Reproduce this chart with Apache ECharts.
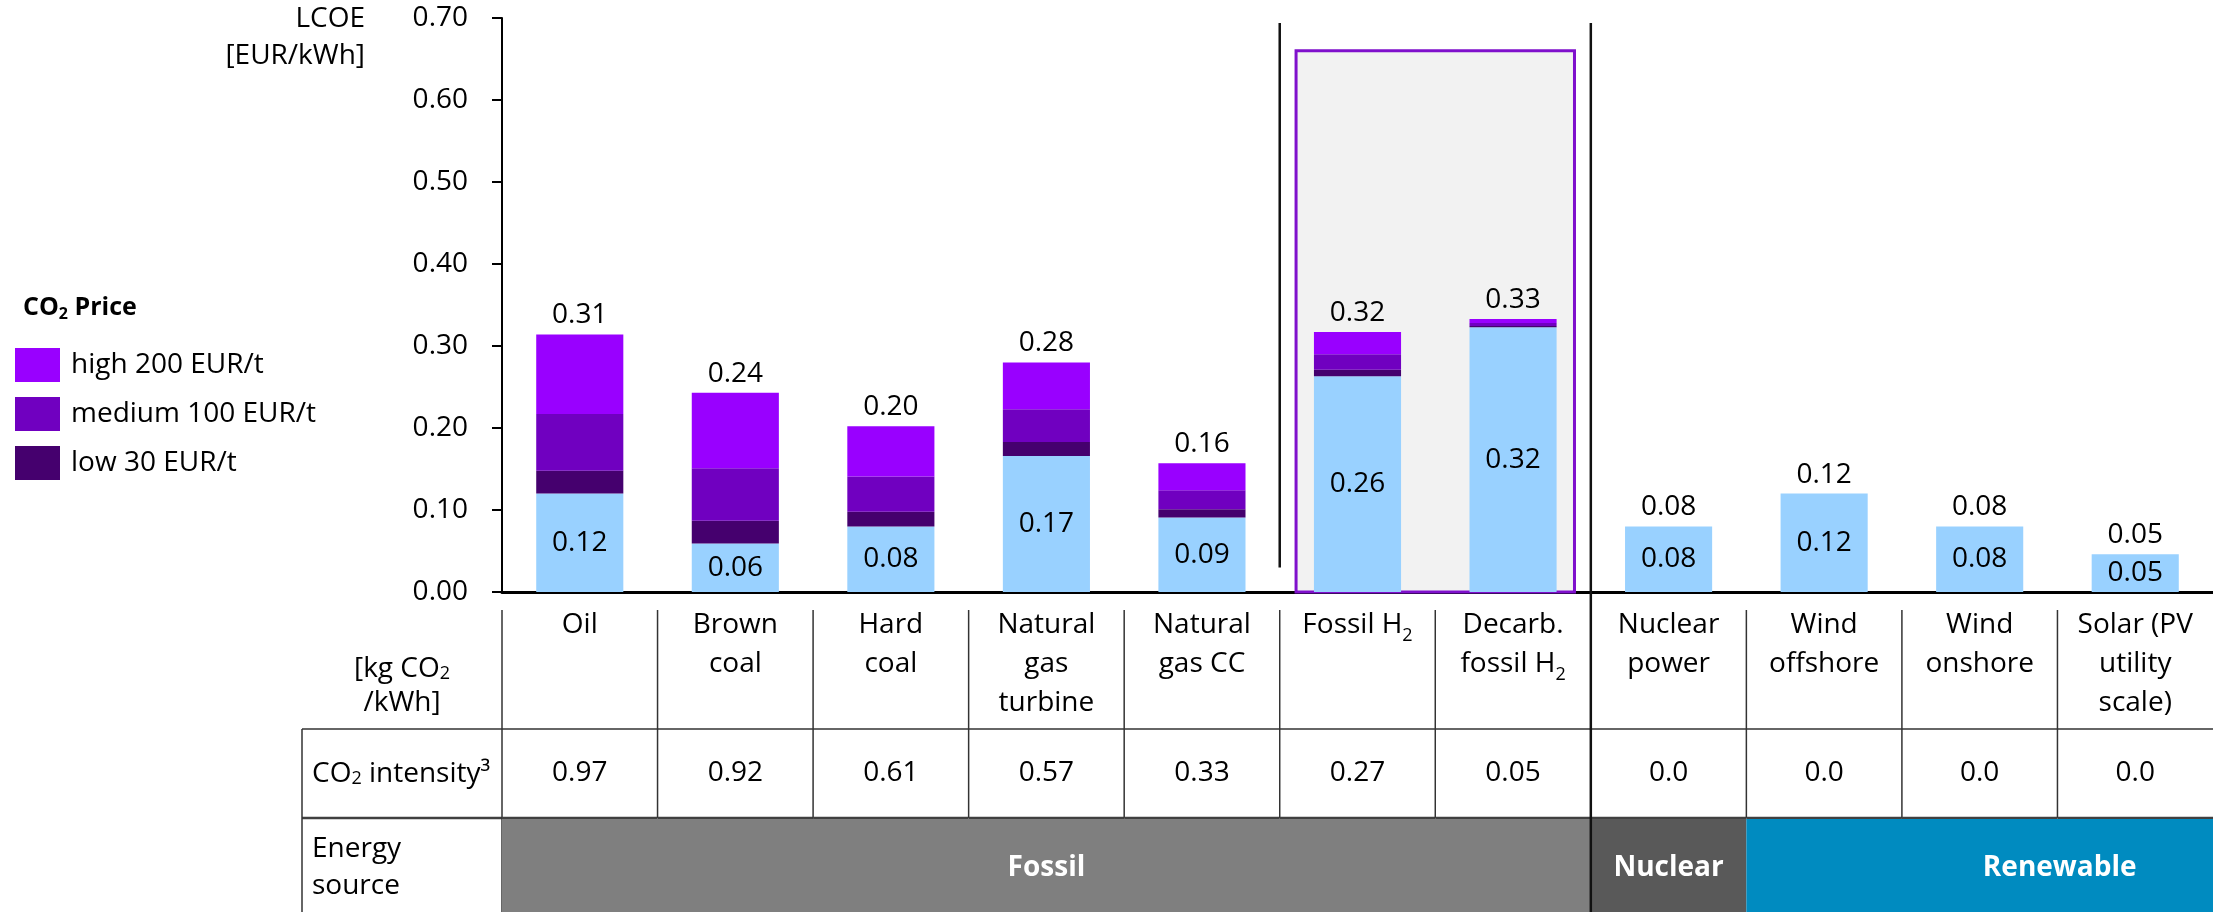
<!DOCTYPE html>
<html>
<head>
    <meta charset="utf-8" />
    <title>LCOE by technology</title>
    <script src="https://cdn.jsdelivr.net/npm/echarts@6/dist/echarts.min.js"></script>
    <style>
        html, body { margin: 0; padding: 0; background: #fff; }
        #chart { width: 2213px; height: 912px; }
    </style>
</head>
<body>
<div id="chart"></div>
<script>
    // {s|2} marks a subscript 2
    var categories = ['Oil', 'Brown\ncoal', 'Hard\ncoal', 'Natural\ngas\nturbine', 'Natural\ngas CC',
        'Fossil H{s|2}', 'Decarb.\nfossil H{s|2}', 'Nuclear\npower', 'Wind\noffshore', 'Wind\nonshore',
        'Solar (PV\nutility\nscale)'];

    // LCOE without CO2 price, then the extra cost of each CO2 price step (EUR/kWh)
    var baseCost  = [0.120, 0.059, 0.080, 0.166, 0.091, 0.263, 0.323, 0.080, 0.120, 0.080, 0.046];
    var lowAdd    = [0.028, 0.028, 0.018, 0.017, 0.010, 0.008, 0.0015, 0, 0, 0, 0];
    var mediumAdd = [0.069, 0.064, 0.043, 0.040, 0.023, 0.019, 0.0035, 0, 0, 0, 0];
    var highAdd   = [0.097, 0.092, 0.061, 0.057, 0.033, 0.027, 0.005, 0, 0, 0, 0];
    var totals    = [0.31, 0.24, 0.20, 0.28, 0.16, 0.32, 0.33, 0.08, 0.12, 0.08, 0.05];

    var co2Intensity = [0.97, 0.92, 0.61, 0.57, 0.33, 0.27, 0.05, 0.0, 0.0, 0.0, 0.0];

    var sourceNames = ['Fossil', 'Nuclear', 'Renewable'];
    var sourceFirst = [0, 7, 8];
    var sourceLast  = [6, 7, 10];

    var priceNames = ['low 30 EUR/t', 'medium 100 EUR/t', 'high 200 EUR/t'];

    // hydrogen highlight box: first / last category and top value
    var h2Box = [5, 6, 0.66];
    // vertical separators after these categories
    var separatorsAfter = [4, 6];

    // ---- layout and style ----
    var FONT = 'Open Sans';
    var FS = 28;
    var PLOT_LEFT = 502;
    var AXIS_Y = 592;
    var ROW_EDGES = [18, 137, 226, 320];     // table rows, px below the x axis
    var SOURCE_COLORS = ['#7F7F7F', '#595959', '#008BC0'];
    var SOURCE_SHIFT = [0, 0, 80];
    var PRICE_COLORS = ['#45006E', '#7000C0', '#9900FF'];
    var BASE_COLOR = '#99D1FF';
    var SUB = { s: { fontSize: 18, fontFamily: FONT, lineHeight: 20, verticalAlign: 'bottom', fill: '#000' } };

    var plainNames = categories.map(function (c) {
        return c.replace(/\{s\|2\}/g, '2').replace(/\n/g, ' ');
    });

    function renderBox(params, api) {
        var bw = api.size([1, 0])[0];
        var a = api.coord([api.value(0), 0]);
        var b = api.coord([api.value(1), api.value(2)]);
        var inset = bw * 0.105;
        var x0 = a[0] - bw / 2 + inset;
        var x1 = b[0] + bw / 2 - inset;
        return {
            type: 'rect',
            shape: { x: x0, y: b[1], width: x1 - x0, height: a[1] - b[1] },
            style: { fill: '#F2F2F2', stroke: '#7F10CC', lineWidth: 3 }
        };
    }

    function renderSeparator(params, api) {
        var i = api.value(0);
        var bw = api.size([1, 0])[0];
        var x = api.coord([i, 0])[0] + bw / 2;
        var yTop = api.coord([i, 0.694])[1];
        var yBot = params.dataIndex === 0 ? api.coord([i, 0.03])[1] : api.getHeight();
        return {
            type: 'line',
            shape: { x1: x, y1: yTop, x2: x, y2: yBot },
            style: { stroke: '#111', lineWidth: 2.5 }
        };
    }

    function renderTable(params, api) {
        var i = api.value(0);
        var bw = api.size([1, 0])[0];
        var cx = api.coord([i, 0])[0];
        var x0 = cx - bw / 2, x1 = cx + bw / 2;
        var y = ROW_EDGES.map(function (r) { return api.coord([i, r])[1]; });
        var v = co2Intensity[i];
        return {
            type: 'group',
            children: [
                { type: 'line', shape: { x1: x0, y1: y[0], x2: x0, y2: i === 0 ? y[3] : y[2] },
                  style: { stroke: '#333', lineWidth: 1.5 } },
                { type: 'line', shape: { x1: x0, y1: y[1], x2: x1, y2: y[1] },
                  style: { stroke: '#333', lineWidth: 1.5 } },
                { type: 'line', shape: { x1: x0, y1: y[2], x2: x1, y2: y[2] },
                  style: { stroke: '#404040', lineWidth: 2.5 } },
                { type: 'text', style: {
                    text: categories[i], x: cx, y: y[0] - 4, align: 'center', verticalAlign: 'top',
                    fontSize: FS, fontFamily: FONT, lineHeight: 39, fill: '#000', rich: SUB } },
                { type: 'text', style: {
                    text: v === 0 ? '0.0' : v.toFixed(2), x: cx, y: (y[1] + y[2]) / 2,
                    align: 'center', verticalAlign: 'middle',
                    fontSize: FS, fontFamily: FONT, fill: '#000' } }
            ]
        };
    }

    function renderSource(params, api) {
        var k = api.value(2);
        var bw = api.size([1, 0])[0];
        var xa = api.coord([api.value(0), 0])[0] - bw / 2;
        var xb = api.coord([api.value(1), 0])[0] + bw / 2;
        var y0 = api.coord([0, ROW_EDGES[2]])[1];
        var y1 = api.coord([0, ROW_EDGES[3]])[1];
        return {
            type: 'group',
            children: [
                { type: 'rect', shape: { x: xa, y: y0 + 1, width: xb - xa, height: y1 - y0 },
                  style: { fill: SOURCE_COLORS[k] } },
                { type: 'text', style: {
                    text: sourceNames[k], x: (xa + xb) / 2 + SOURCE_SHIFT[k], y: (y0 + y1) / 2 + 3,
                    align: 'center', verticalAlign: 'middle',
                    fontSize: FS, fontWeight: 'bold', fontFamily: FONT, fill: '#fff' } }
            ]
        };
    }

    var priceData = [lowAdd, mediumAdd, highAdd];
    var priceSeries = priceNames.map(function (name, k) {
        var s = {
            name: name,
            type: 'bar',
            stack: 'lcoe',
            barWidth: '56%',
            z: 3,
            itemStyle: { color: PRICE_COLORS[k] },
            data: priceData[k]
        };
        if (k === 2) {
            s.label = {
                show: true, position: 'top', distance: 5,
                fontSize: FS, fontFamily: FONT, color: '#000',
                formatter: function (p) { return totals[p.dataIndex].toFixed(2); }
            };
        }
        return s;
    });

    var chart = echarts.init(document.getElementById('chart'));
    chart.setOption({
        animation: false,
        textStyle: { fontFamily: FONT },
        title: {
            text: 'CO{s|2} Price',
            left: 23,
            top: 294,
            padding: 0,
            textStyle: {
                fontSize: 25, fontWeight: 'bold', color: '#000', fontFamily: FONT,
                rich: { s: { fontSize: 16, fontWeight: 'bold', fontFamily: FONT, padding: [12, 0, 0, 0] } }
            }
        },
        legend: {
            data: priceNames.slice().reverse(),
            orient: 'vertical',
            left: 15,
            top: 348,
            padding: 0,
            icon: 'rect',
            itemWidth: 45,
            itemHeight: 34,
            itemGap: 15,
            selectedMode: false,
            textStyle: { fontSize: FS, fontFamily: FONT, color: '#000', padding: [0, 0, 0, 6] }
        },
        graphic: [
            { type: 'text', x: 365, y: 1, style: {
                text: 'LCOE\n[EUR/kWh]', align: 'right', verticalAlign: 'top',
                fontSize: FS, fontFamily: FONT, lineHeight: 37, fill: '#000' } },
            { type: 'text', x: 402, y: 669, style: {
                text: '[kg CO{s|2}', align: 'center', verticalAlign: 'middle',
                fontSize: FS, fontFamily: FONT, fill: '#000', rich: SUB } },
            { type: 'text', x: 402, y: 703, style: {
                text: '/kWh]', align: 'center', verticalAlign: 'middle',
                fontSize: FS, fontFamily: FONT, fill: '#000' } },
            { type: 'text', x: 312, y: 774, style: {
                text: 'CO{s|2} intensity³', align: 'left', verticalAlign: 'middle',
                fontSize: FS, fontFamily: FONT, fill: '#000', rich: SUB } },
            { type: 'text', x: 312, y: 868, style: {
                text: 'Energy\nsource', align: 'left', verticalAlign: 'middle',
                fontSize: FS, fontFamily: FONT, lineHeight: 37, fill: '#000' } },
            { type: 'line', shape: { x1: 302, y1: 729, x2: PLOT_LEFT, y2: 729 },
              style: { stroke: '#333', lineWidth: 1.5 } },
            { type: 'line', shape: { x1: 302, y1: 818, x2: PLOT_LEFT, y2: 818 },
              style: { stroke: '#404040', lineWidth: 2.5 } },
            { type: 'line', shape: { x1: 302, y1: 729, x2: 302, y2: 912 },
              style: { stroke: '#333', lineWidth: 1.5 } }
        ],
        grid: [
            { left: PLOT_LEFT, right: 0, top: 18, height: AXIS_Y - 18 },
            { left: PLOT_LEFT, right: 0, top: AXIS_Y, height: 912 - AXIS_Y }
        ],
        xAxis: [
            {
                type: 'category', gridIndex: 0, data: plainNames,
                axisLine: { lineStyle: { color: '#000', width: 3 } },
                axisTick: { show: false },
                axisLabel: { show: false }
            },
            { type: 'category', gridIndex: 1, data: plainNames, show: false }
        ],
        yAxis: [
            {
                type: 'value', gridIndex: 0, min: 0, max: 0.7, interval: 0.1,
                axisLine: { show: true, lineStyle: { color: '#000', width: 2 } },
                axisTick: { show: true, length: 10, lineStyle: { color: '#000', width: 2 } },
                axisLabel: {
                    margin: 34, fontSize: FS, fontFamily: FONT, color: '#000',
                    formatter: function (v) { return v.toFixed(2); }
                },
                splitLine: { show: false }
            },
            { type: 'value', gridIndex: 1, min: 0, max: 912 - AXIS_Y, inverse: true, show: false }
        ],
        series: [
            {
                type: 'custom', name: 'h2box', xAxisIndex: 0, yAxisIndex: 0, z: 1,
                renderItem: renderBox, encode: { x: [0, 1], y: 2 },
                data: [h2Box]
            },
            {
                name: 'LCOE',
                type: 'bar',
                stack: 'lcoe',
                barWidth: '56%',
                z: 3,
                itemStyle: { color: BASE_COLOR },
                label: {
                    show: true, position: 'inside',
                    fontSize: FS, fontFamily: FONT, color: '#000',
                    formatter: function (p) { return p.value.toFixed(2); }
                },
                data: baseCost
            }
        ].concat(priceSeries).concat([
            {
                type: 'custom', name: 'table', xAxisIndex: 1, yAxisIndex: 1, z: 2,
                renderItem: renderTable, encode: { x: 0, y: 1 },
                data: categories.map(function (c, i) { return [i, 0]; })
            },
            {
                type: 'custom', name: 'source', xAxisIndex: 1, yAxisIndex: 1, z: 3,
                renderItem: renderSource, encode: { x: [0, 1], y: 3 },
                data: sourceNames.map(function (n, k) { return [sourceFirst[k], sourceLast[k], k, 0]; })
            },
            {
                type: 'custom', name: 'separators', xAxisIndex: 0, yAxisIndex: 0, z: 10, clip: false,
                renderItem: renderSeparator, encode: { x: 0, y: 1 },
                data: separatorsAfter.map(function (a) { return [a, 0]; })
            }
        ])
    });
</script>
</body>
</html>
